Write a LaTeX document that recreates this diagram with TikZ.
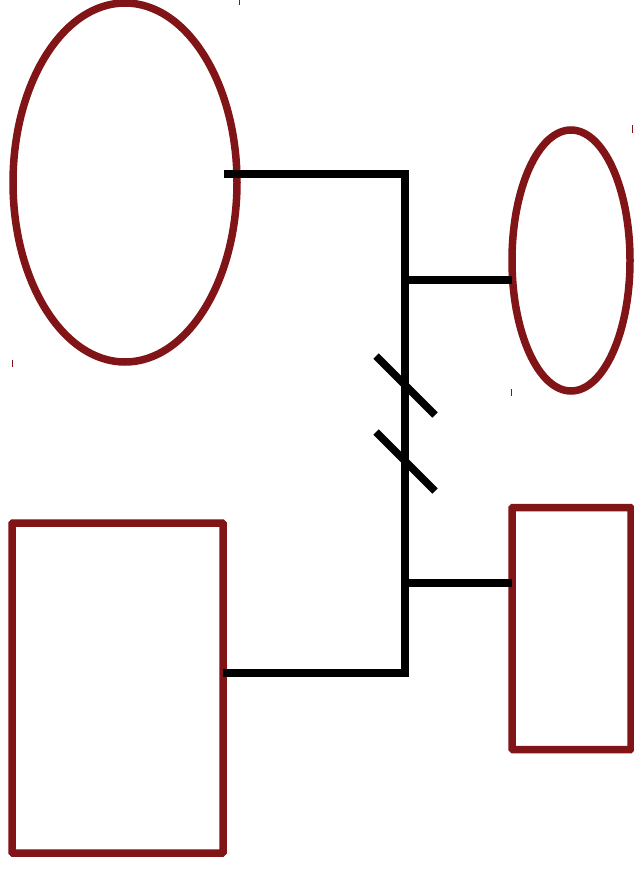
\documentclass[tikz,border=0pt]{standalone}
\usetikzlibrary{shapes.geometric}
\definecolor{darkred}{RGB}{128,20,22}
\begin{document}
\begin{tikzpicture}[x=1pt,y=-1pt]
        \tikzstyle{blob}=[ellipse,line width=7.5pt,draw=darkred,inner sep=0pt,outer sep=0pt]
        \tikzstyle{box}=[rectangle,line width=7.5pt,draw=darkred,inner sep=0pt,outer sep=0pt,rounded corners=1pt]
        \tikzstyle{wire}=[draw,line width=7.5pt]
        \tikzstyle{tick}=[draw=darkred,line width=1pt]
        \useasboundingbox (0,0) rectangle (634,870);
       \begin{scope}
         \node [blob,minimum width=224pt,minimum height=359pt] (e1) at (125,182.5) {};
         \node [blob,minimum width=118pt,minimum height=261pt] (e2) at (571,260.5) {};
         \node [box,minimum width=211pt,minimum height=330pt] (r1) at (117.5,688) {};
         \node [box,minimum width=119pt,minimum height=242pt] (r2) at (571.5,628.5) {};
         % bus
         \coordinate (a) at (224,174);
         \coordinate (b1) at (405,174);
         \coordinate (b2) at (405,280);
         \coordinate (b3) at (405,583);
         \coordinate (b4) at (405,673);
         \path[wire] (a) -- (b1) -- (b4) -- (r1.east |- b4);
         \path[wire] (b2) -- (e2.west |- b2);
         \path[wire] (b3) -- (r2.west |- b3);
         % break marks
         \coordinate (s1) at (376,356);
         \coordinate (s2) at (435,415);
         \coordinate (s3) at (376,432);
         \coordinate (s4) at (435,491);
         \path[wire] (s1) -- (s2);
         \path[wire] (s3) -- (s4);
         % corner ticks
         \coordinate (t1) at (239,0);
         \coordinate (t2) at (12,360);
         \coordinate (t3) at (632,125);
         \coordinate (t4) at (511,389);
         \path[tick] (t1) -- ++(0,5);
         \path[tick] (t2) -- ++(0,7);
         \path[tick] (t3) -- ++(0,8);
         \path[tick] (t4) -- ++(0,7);
        \end{scope}
      \end{tikzpicture}
\end{document}
